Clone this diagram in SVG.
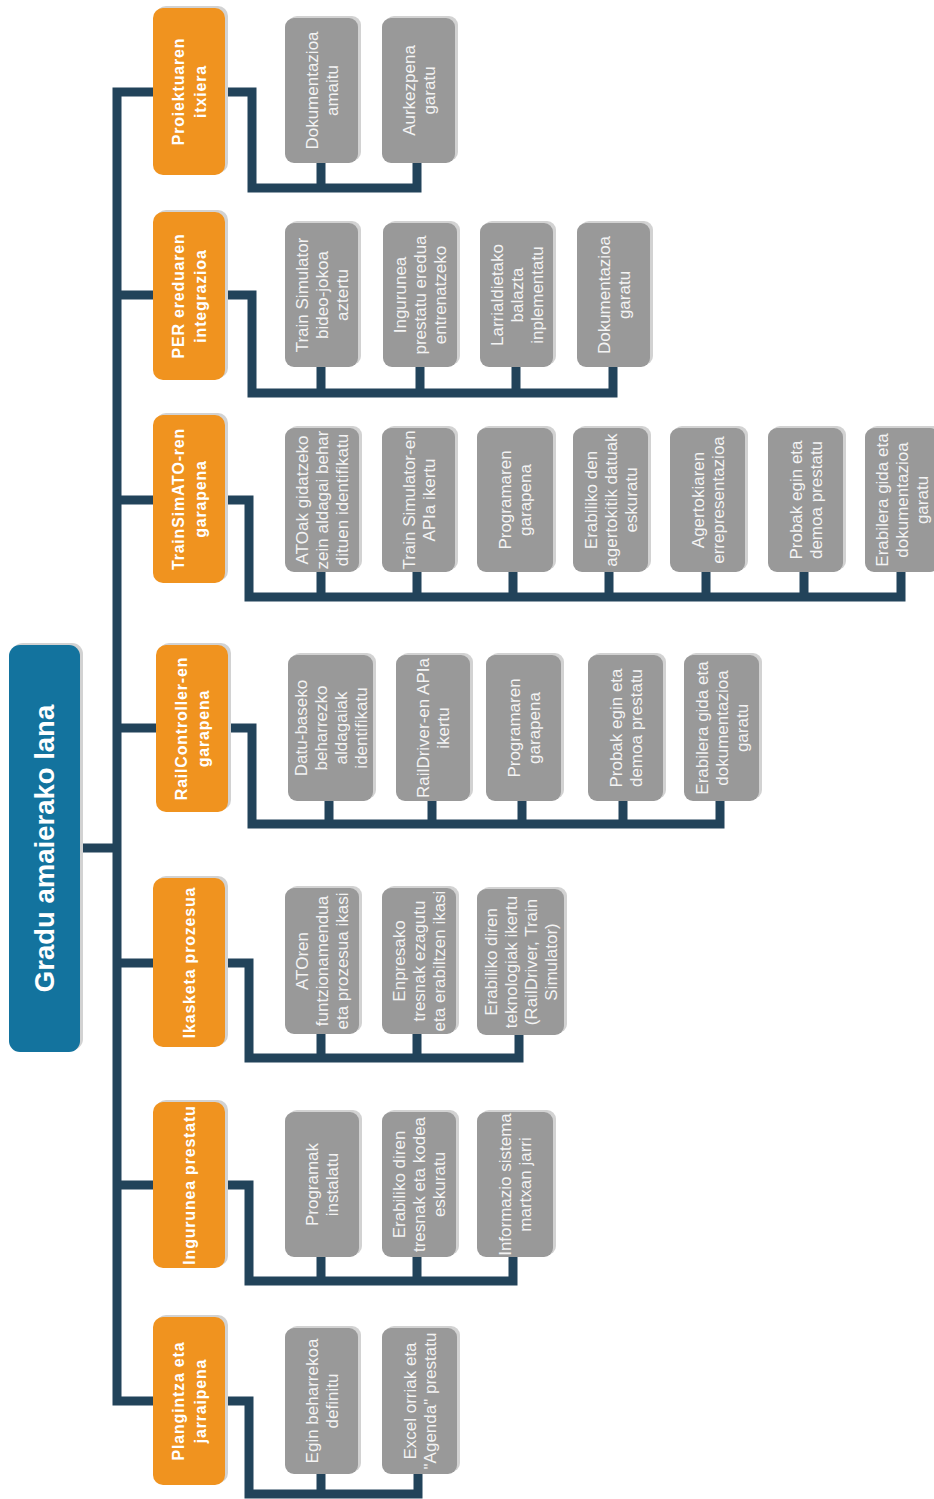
<svg xmlns="http://www.w3.org/2000/svg" width="934" height="1499" viewBox="0 0 934 1499">
<style>
.conn{fill:none;stroke:#22435A;stroke-width:9;stroke-linejoin:miter;stroke-linecap:butt}
.sh{fill:#D2D2D2}
.root{fill:#13739E}
.l1{fill:#F0931F}
.l2{fill:#999999}
.tr{font-family:"Liberation Sans",Arial,sans-serif;font-weight:bold;font-size:27.5px;fill:#FFFFFF;text-anchor:middle}
.t1{font-family:"Liberation Sans",Arial,sans-serif;font-weight:bold;font-size:16px;letter-spacing:0.8px;fill:#FFFFFF;text-anchor:middle}
.t2{font-family:"Liberation Sans",Arial,sans-serif;font-size:17px;fill:#F3F3F3;text-anchor:middle}
</style>
<rect width="934" height="1499" fill="#FFFFFF"/>
<g id="connectors">
<path class="conn" d="M80 848 H117"/>
<path class="conn" d="M153 92 H117 V1401 H153"/>
<path class="conn" d="M117 295 H153 M117 500 H153 M117 728 H156 M117 963 H153 M117 1185 H153"/>
<path class="conn" d="M225 92 H252 V188 H417 V163 M321 163 V188"/>
<path class="conn" d="M225 295 H252 V393 H613 V367 M321 367 V393 M420 367 V393 M516 367 V393"/>
<path class="conn" d="M225 500 H249 V597 H901 V572 M321 572 V597 M417 572 V597 M513 572 V597 M609 572 V597 M706 572 V597 M804 572 V597"/>
<path class="conn" d="M228 728 H252 V824 H720 V799 M329 799 V824 M432 799 V824 M522 799 V824 M623 799 V824"/>
<path class="conn" d="M225 963 H249 V1058 H519 V1034 M321 1034 V1058 M417 1034 V1058"/>
<path class="conn" d="M225 1185 H249 V1281 H513 V1256 M321 1256 V1281 M417 1256 V1281"/>
<path class="conn" d="M225 1401 H249 V1494 H418 V1472 M321 1472 V1494"/>
</g>
<g id="root">
<rect class="sh" x="12" y="643" width="71" height="407" rx="11"/>
<rect class="root" x="9" y="645" width="71" height="407" rx="11"/>
<text class="tr" transform="translate(44.5 848.5) rotate(-90)"><tspan x="0" y="9.6">Gradu amaierako lana</tspan></text>
</g>
<g id="n1">
<rect class="sh" x="156" y="6" width="72" height="167" rx="10"/>
<rect class="l1" x="153" y="8" width="72" height="167" rx="10"/>
<text class="t1" transform="translate(189 91.5) rotate(-90)"><tspan x="0" y="-5.4">Proiektuaren</tspan><tspan x="0" y="16.6">itxiera</tspan></text>
</g>
<g id="n2">
<rect class="sh" x="156" y="210" width="72" height="168" rx="10"/>
<rect class="l1" x="153" y="212" width="72" height="168" rx="10"/>
<text class="t1" transform="translate(189 296) rotate(-90)"><tspan x="0" y="-5.4">PER ereduaren</tspan><tspan x="0" y="16.6">integrazioa</tspan></text>
</g>
<g id="n3">
<rect class="sh" x="156" y="413" width="72" height="168" rx="10"/>
<rect class="l1" x="153" y="415" width="72" height="168" rx="10"/>
<text class="t1" transform="translate(189 499) rotate(-90)"><tspan x="0" y="-5.4">TrainSimATO-ren</tspan><tspan x="0" y="16.6">garapena</tspan></text>
</g>
<g id="n4">
<rect class="sh" x="159" y="643" width="72" height="167" rx="10"/>
<rect class="l1" x="156" y="645" width="72" height="167" rx="10"/>
<text class="t1" transform="translate(192 728.5) rotate(-90)"><tspan x="0" y="-5.4">RailController-en</tspan><tspan x="0" y="16.6">garapena</tspan></text>
</g>
<g id="n5">
<rect class="sh" x="156" y="876" width="72" height="169" rx="10"/>
<rect class="l1" x="153" y="878" width="72" height="169" rx="10"/>
<text class="t1" transform="translate(189 962.5) rotate(-90)"><tspan x="0" y="5.6">Ikasketa prozesua</tspan></text>
</g>
<g id="n6">
<rect class="sh" x="156" y="1100" width="72" height="166" rx="10"/>
<rect class="l1" x="153" y="1102" width="72" height="166" rx="10"/>
<text class="t1" transform="translate(189 1185) rotate(-90)"><tspan x="0" y="5.6">Ingurunea prestatu</tspan></text>
</g>
<g id="n7">
<rect class="sh" x="156" y="1315" width="72" height="168" rx="10"/>
<rect class="l1" x="153" y="1317" width="72" height="168" rx="10"/>
<text class="t1" transform="translate(189 1401) rotate(-90)"><tspan x="0" y="-5.4">Plangintza eta</tspan><tspan x="0" y="16.6">jarraipena</tspan></text>
</g>
<g id="c1a"><rect class="sh" x="288" y="16" width="73" height="145" rx="9"/><rect class="l2" x="285" y="18" width="73" height="145" rx="9"/>
<text class="t2" transform="translate(321.5 90.5) rotate(-90)"><tspan x="0" y="-4">Dokumentazioa</tspan><tspan x="0" y="16">amaitu</tspan></text></g>
<g id="c1b"><rect class="sh" x="385" y="16" width="73" height="145" rx="9"/><rect class="l2" x="382" y="18" width="73" height="145" rx="9"/>
<text class="t2" transform="translate(418.5 90.5) rotate(-90)"><tspan x="0" y="-4">Aurkezpena</tspan><tspan x="0" y="16">garatu</tspan></text></g>
<g id="c2a"><rect class="sh" x="288" y="221" width="73" height="144" rx="9"/><rect class="l2" x="285" y="223" width="73" height="144" rx="9"/>
<text class="t2" transform="translate(321.5 295) rotate(-90)"><tspan x="0" y="-14">Train Simulator</tspan><tspan x="0" y="6">bideo-jokoa</tspan><tspan x="0" y="26">aztertu</tspan></text></g>
<g id="c2b"><rect class="sh" x="386" y="221" width="74" height="144" rx="9"/><rect class="l2" x="383" y="223" width="74" height="144" rx="9"/>
<text class="t2" transform="translate(420 295) rotate(-90)"><tspan x="0" y="-14">Ingurunea</tspan><tspan x="0" y="6">prestatu eredua</tspan><tspan x="0" y="26">entrenatzeko</tspan></text></g>
<g id="c2c"><rect class="sh" x="483" y="221" width="73" height="144" rx="9"/><rect class="l2" x="480" y="223" width="73" height="144" rx="9"/>
<text class="t2" transform="translate(516.5 295) rotate(-90)"><tspan x="0" y="-14">Larrialdietako</tspan><tspan x="0" y="6">balazta</tspan><tspan x="0" y="26">inplementatu</tspan></text></g>
<g id="c2d"><rect class="sh" x="580" y="221" width="73" height="144" rx="9"/><rect class="l2" x="577" y="223" width="73" height="144" rx="9"/>
<text class="t2" transform="translate(613.5 295) rotate(-90)"><tspan x="0" y="-4">Dokumentazioa</tspan><tspan x="0" y="16">garatu</tspan></text></g>
<g id="c3a"><rect class="sh" x="288" y="426" width="74" height="144" rx="9"/><rect class="l2" x="285" y="428" width="74" height="144" rx="9"/>
<text class="t2" transform="translate(322 500) rotate(-90)"><tspan x="0" y="-14">ATOak gidatzeko</tspan><tspan x="0" y="6">zein aldagai behar</tspan><tspan x="0" y="26">dituen identifikatu</tspan></text></g>
<g id="c3b"><rect class="sh" x="385" y="426" width="73" height="144" rx="9"/><rect class="l2" x="382" y="428" width="73" height="144" rx="9"/>
<text class="t2" transform="translate(418.5 500) rotate(-90)"><tspan x="0" y="-4">Train Simulator-en</tspan><tspan x="0" y="16">APIa ikertu</tspan></text></g>
<g id="c3c"><rect class="sh" x="480" y="426" width="76" height="144" rx="9"/><rect class="l2" x="477" y="428" width="76" height="144" rx="9"/>
<text class="t2" transform="translate(515 500) rotate(-90)"><tspan x="0" y="-4">Programaren</tspan><tspan x="0" y="16">garapena</tspan></text></g>
<g id="c3d"><rect class="sh" x="576" y="426" width="75" height="144" rx="9"/><rect class="l2" x="573" y="428" width="75" height="144" rx="9"/>
<text class="t2" transform="translate(610.5 500) rotate(-90)"><tspan x="0" y="-14">Erabiliko den</tspan><tspan x="0" y="6">agertokitik datuak</tspan><tspan x="0" y="26">eskuratu</tspan></text></g>
<g id="c3e"><rect class="sh" x="673" y="426" width="75" height="144" rx="9"/><rect class="l2" x="670" y="428" width="75" height="144" rx="9"/>
<text class="t2" transform="translate(707.5 500) rotate(-90)"><tspan x="0" y="-4">Agertokiaren</tspan><tspan x="0" y="16">errepresentazioa</tspan></text></g>
<g id="c3f"><rect class="sh" x="771" y="426" width="75" height="144" rx="9"/><rect class="l2" x="768" y="428" width="75" height="144" rx="9"/>
<text class="t2" transform="translate(805.5 500) rotate(-90)"><tspan x="0" y="-4">Probak egin eta</tspan><tspan x="0" y="16">demoa prestatu</tspan></text></g>
<g id="c3g"><rect class="sh" x="868" y="426" width="74" height="144" rx="9"/><rect class="l2" x="865" y="428" width="74" height="144" rx="9"/>
<text class="t2" transform="translate(902 500) rotate(-90)"><tspan x="0" y="-14">Erabilera gida eta</tspan><tspan x="0" y="6">dokumentazioa</tspan><tspan x="0" y="26">garatu</tspan></text></g>
<g id="c4a"><rect class="sh" x="291" y="653" width="85" height="146" rx="9"/><rect class="l2" x="288" y="655" width="85" height="146" rx="9"/>
<text class="t2" transform="translate(330.5 728) rotate(-90)"><tspan x="0" y="-24">Datu-baseko</tspan><tspan x="0" y="-4">beharrezko</tspan><tspan x="0" y="16">aldagaiak</tspan><tspan x="0" y="36">identifikatu</tspan></text></g>
<g id="c4b"><rect class="sh" x="399" y="653" width="74" height="146" rx="9"/><rect class="l2" x="396" y="655" width="74" height="146" rx="9"/>
<text class="t2" transform="translate(433 728) rotate(-90)"><tspan x="0" y="-4">RailDriver-en APIa</tspan><tspan x="0" y="16">ikertu</tspan></text></g>
<g id="c4c"><rect class="sh" x="489" y="653" width="75" height="146" rx="9"/><rect class="l2" x="486" y="655" width="75" height="146" rx="9"/>
<text class="t2" transform="translate(523.5 728) rotate(-90)"><tspan x="0" y="-4">Programaren</tspan><tspan x="0" y="16">garapena</tspan></text></g>
<g id="c4d"><rect class="sh" x="591" y="653" width="75" height="146" rx="9"/><rect class="l2" x="588" y="655" width="75" height="146" rx="9"/>
<text class="t2" transform="translate(625.5 728) rotate(-90)"><tspan x="0" y="-4">Probak egin eta</tspan><tspan x="0" y="16">demoa prestatu</tspan></text></g>
<g id="c4e"><rect class="sh" x="687" y="653" width="75" height="146" rx="9"/><rect class="l2" x="684" y="655" width="75" height="146" rx="9"/>
<text class="t2" transform="translate(721.5 728) rotate(-90)"><tspan x="0" y="-14">Erabilera gida eta</tspan><tspan x="0" y="6">dokumentazioa</tspan><tspan x="0" y="26">garatu</tspan></text></g>
<g id="c5a"><rect class="sh" x="288" y="886" width="74" height="146" rx="9"/><rect class="l2" x="285" y="888" width="74" height="146" rx="9"/>
<text class="t2" transform="translate(322 961) rotate(-90)"><tspan x="0" y="-14">ATOren</tspan><tspan x="0" y="6">funtzionamendua</tspan><tspan x="0" y="26">eta prozesua ikasi</tspan></text></g>
<g id="c5b"><rect class="sh" x="385" y="886" width="74" height="146" rx="9"/><rect class="l2" x="382" y="888" width="74" height="146" rx="9"/>
<text class="t2" transform="translate(419 961) rotate(-90)"><tspan x="0" y="-14">Enpresako</tspan><tspan x="0" y="6">tresnak ezagutu</tspan><tspan x="0" y="26">eta erabiltzen ikasi</tspan></text></g>
<g id="c5c"><rect class="sh" x="480" y="887" width="87" height="146" rx="9"/><rect class="l2" x="477" y="889" width="87" height="146" rx="9"/>
<text class="t2" transform="translate(520.5 962) rotate(-90)"><tspan x="0" y="-24">Erabiliko diren</tspan><tspan x="0" y="-4">teknologiak ikertu</tspan><tspan x="0" y="16">(RailDriver, Train</tspan><tspan x="0" y="36">Simulator)</tspan></text></g>
<g id="c6a"><rect class="sh" x="288" y="1110" width="74" height="145" rx="9"/><rect class="l2" x="285" y="1112" width="74" height="145" rx="9"/>
<text class="t2" transform="translate(322 1184.5) rotate(-90)"><tspan x="0" y="-4">Programak</tspan><tspan x="0" y="16">instalatu</tspan></text></g>
<g id="c6b"><rect class="sh" x="385" y="1110" width="74" height="145" rx="9"/><rect class="l2" x="382" y="1112" width="74" height="145" rx="9"/>
<text class="t2" transform="translate(419 1184.5) rotate(-90)"><tspan x="0" y="-14">Erabiliko diren</tspan><tspan x="0" y="6">tresnak eta kodea</tspan><tspan x="0" y="26">eskuratu</tspan></text></g>
<g id="c6c"><rect class="sh" x="480" y="1110" width="76" height="145" rx="9"/><rect class="l2" x="477" y="1112" width="76" height="145" rx="9"/>
<text class="t2" transform="translate(515 1184.5) rotate(-90)"><tspan x="0" y="-4">Informazio sistema</tspan><tspan x="0" y="16">martxan jarri</tspan></text></g>
<g id="c7a"><rect class="sh" x="288" y="1326" width="73" height="146" rx="9"/><rect class="l2" x="285" y="1328" width="73" height="146" rx="9"/>
<text class="t2" transform="translate(321.5 1401) rotate(-90)"><tspan x="0" y="-4">Egin beharrekoa</tspan><tspan x="0" y="16">definitu</tspan></text></g>
<g id="c7b"><rect class="sh" x="385" y="1326" width="75" height="146" rx="9"/><rect class="l2" x="382" y="1328" width="75" height="146" rx="9"/>
<text class="t2" transform="translate(419.5 1401) rotate(-90)"><tspan x="0" y="-4">Excel orriak eta</tspan><tspan x="0" y="16">"Agenda" prestatu</tspan></text></g>
</svg>
